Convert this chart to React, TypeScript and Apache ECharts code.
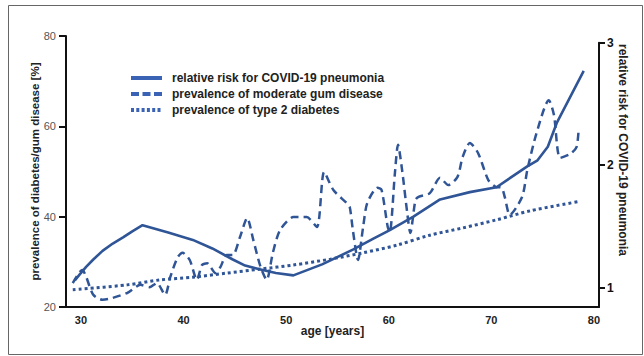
import React, { useEffect, useRef } from "react";
import * as echarts from "echarts";

// relative risk for COVID-19 pneumonia (right axis)
const riskAges = [29.4, 29.9, 30.5, 31.2, 32.1, 33.1, 34.1, 35.0, 36.0, 38.5, 40.9, 42.8, 44.8, 46.0, 47.4, 49.0, 50.7, 53.5, 56.5, 58.5, 60.1, 62.4, 65.0, 67.9, 70.5, 73.5, 74.5, 75.5, 76.4, 79.0];
const riskValues = [1.06, 1.11, 1.17, 1.23, 1.3, 1.36, 1.41, 1.46, 1.51, 1.45, 1.39, 1.32, 1.23, 1.18, 1.15, 1.12, 1.1, 1.19, 1.31, 1.4, 1.47, 1.58, 1.72, 1.78, 1.82, 1.99, 2.04, 2.15, 2.35, 2.77];

// prevalence of moderate gum disease (left axis, %)
const gumAges = [29.2, 30.1, 31.2, 32.1, 34.5, 35.8, 36.7, 37.4, 38.2, 38.7, 39.4, 39.9, 40.6, 41.3, 41.8, 42.3, 43.1, 43.6, 44.2, 44.8, 45.5, 46.2, 46.8, 47.5, 48.1, 48.7, 49.4, 50.7, 52.0, 53.0, 53.7, 54.6, 55.9, 56.2, 56.5, 57.0, 57.5, 57.9, 58.9, 59.3, 59.9, 60.1, 60.6, 60.9, 61.3, 61.8, 62.1, 62.6, 62.9, 64.0, 65.0, 65.8, 66.7, 67.2, 67.9, 68.7, 69.7, 70.4, 71.0, 71.3, 71.8, 73.0, 73.5, 74.4, 75.6, 76.1, 76.7, 77.7, 78.3, 78.5];
const gumValues = [25.3, 28.2, 22.7, 21.6, 23.1, 24.9, 24.4, 25.3, 22.7, 26.6, 30.9, 32.0, 30.4, 26.0, 29.3, 29.7, 27.5, 28.9, 31.5, 31.5, 35.5, 39.7, 34.8, 28.9, 26.0, 32.0, 37.0, 39.9, 39.9, 37.7, 49.9, 45.9, 43.0, 42.1, 37.0, 30.4, 37.7, 43.0, 46.4, 45.9, 37.7, 36.6, 49.7, 55.9, 50.3, 40.8, 36.4, 43.7, 44.4, 45.2, 48.6, 47.0, 48.8, 53.2, 56.3, 54.1, 48.1, 46.6, 46.4, 44.4, 40.4, 44.4, 50.3, 58.5, 65.8, 62.5, 53.0, 53.9, 55.4, 59.2];

// prevalence of type 2 diabetes (left axis, %)
const diabAges = [29.2, 34.5, 37.7, 40.9, 44.2, 47.5, 50.7, 54.3, 57.5, 60.8, 64.0, 67.2, 70.5, 73.8, 78.4];
const diabValues = [23.8, 24.9, 26.0, 26.6, 27.5, 28.4, 29.3, 30.6, 32.0, 33.7, 35.9, 37.5, 39.3, 41.3, 43.3];

const xTickLabels = [30, 40, 50, 60, 70, 80];
const rightTickLabels = [1, 2, 3];

const names = [
  "relative risk for COVID-19 pneumonia",
  "prevalence of moderate gum disease",
  "prevalence of type 2 diabetes",
];

const FONT = "Liberation Sans, Arial, Helvetica, sans-serif";
const BLUE = "#2f5597";
const LEGEND_BLUE = "#3a62b5";

const zip = (a: number[], b: number[]) => a.map((x, i) => [x, b[i]]);

export default function App() {
  const ref = useRef<HTMLDivElement>(null);
  useEffect(() => {
    if (!ref.current) return;
    const chart = echarts.init(ref.current, null, { renderer: "svg" });
    const xMin = 28.54;
    const xMax = 80.49;
    const hiddenSymbol = { opacity: 0, color: "transparent", borderWidth: 0 };
    chart.setOption({
      animation: false,
      backgroundColor: "#ffffff",
      textStyle: { fontFamily: FONT },
      grid: [
        { left: 66, right: 45, top: 36, bottom: 49 },
        { left: 66, right: 45, top: 42.7, bottom: 49 },
      ],
      xAxis: [
        {
          type: "value",
          gridIndex: 0,
          min: xMin,
          max: xMax,
          name: "age [years]",
          nameLocation: "middle",
          nameGap: 18,
          nameMoveOverlap: false,
          nameTextStyle: { fontFamily: FONT, fontSize: 12, fontWeight: "bold", color: "#222" },
          axisLine: { show: true, onZero: false, lineStyle: { color: "#111", width: 2 } },
          axisTick: { show: false },
          splitLine: { show: false },
          axisLabel: {
            customValues: xTickLabels,
            margin: 7,
            fontSize: 11,
            fontWeight: "bold",
            color: "#222",
            fontFamily: FONT,
          },
        },
        {
          type: "value",
          gridIndex: 1,
          min: xMin,
          max: xMax,
          show: false,
        },
      ],
      yAxis: [
        {
          type: "value",
          gridIndex: 0,
          position: "left",
          min: 20,
          max: 80,
          interval: 20,
          name: "prevalence of diabetes/gum disease [%]",
          nameLocation: "middle",
          nameGap: 25,
          nameMoveOverlap: false,
          nameTextStyle: { fontFamily: FONT, fontSize: 11.5, fontWeight: "bold", color: "#222" },
          axisLine: { show: true, onZero: false, lineStyle: { color: "#111", width: 2 } },
          axisTick: { show: true, length: 7, lineStyle: { color: "#111", width: 2 } },
          splitLine: { show: false },
          axisLabel: { margin: 10, fontSize: 11, color: "#555", fontFamily: FONT },
        },
        {
          type: "value",
          gridIndex: 1,
          position: "right",
          min: 0.842,
          max: 3,
          axisLine: { show: true, onZero: false, lineStyle: { color: "#111", width: 2 } },
          axisTick: { show: true, length: 6, customValues: rightTickLabels, lineStyle: { color: "#111", width: 2 } },
          splitLine: { show: false },
          axisLabel: {
            customValues: rightTickLabels,
            margin: 8,
            fontSize: 12,
            fontWeight: "bold",
            color: "#111",
            fontFamily: FONT,
          },
        },
      ],
      legend: {
        orient: "vertical",
        left: 124,
        top: 67,
        itemWidth: 31,
        itemHeight: 12,
        itemGap: 4,
        textStyle: { fontFamily: FONT, fontSize: 12, fontWeight: "bold", color: "#222", padding: [0, 0, 0, 5] },
        data: [
          { name: names[0], itemStyle: hiddenSymbol, lineStyle: { color: LEGEND_BLUE, width: 4, type: "solid" } },
          { name: names[1], itemStyle: hiddenSymbol, lineStyle: { color: LEGEND_BLUE, width: 4, type: [8, 3.5] } },
          { name: names[2], itemStyle: hiddenSymbol, lineStyle: { color: LEGEND_BLUE, width: 4, type: [3, 2.3] } },
        ],
      },
      series: [
        {
          name: names[1],
          type: "line",
          xAxisIndex: 0,
          yAxisIndex: 0,
          data: zip(gumAges, gumValues),
          showSymbol: false,
          symbol: "none",
          smooth: 0.25,
          lineStyle: { color: BLUE, width: 2.5, type: [8, 5] },
          itemStyle: { color: BLUE },
          z: 2,
        },
        {
          name: names[2],
          type: "line",
          xAxisIndex: 0,
          yAxisIndex: 0,
          data: zip(diabAges, diabValues),
          showSymbol: false,
          symbol: "none",
          smooth: 0.3,
          lineStyle: { color: BLUE, width: 3, type: [3, 3] },
          itemStyle: { color: BLUE },
          z: 2,
        },
        {
          name: names[0],
          type: "line",
          xAxisIndex: 1,
          yAxisIndex: 1,
          data: zip(riskAges, riskValues),
          showSymbol: false,
          symbol: "none",
          smooth: false,
          lineStyle: { color: BLUE, width: 2.6, type: "solid", join: "round" },
          itemStyle: { color: BLUE },
          z: 3,
        },
      ],
      graphic: [
        {
          type: "rect",
          shape: { x: 8.5, y: 5.5, width: 634, height: 349 },
          style: { fill: "none", stroke: "#666", lineWidth: 1 },
          silent: true,
        },
        {
          type: "text",
          x: 623,
          y: 150,
          rotation: -Math.PI / 2,
          style: {
            text: "relative risk for COVID-19 pneumonia",
            fontFamily: FONT,
            fontSize: 12,
            fontWeight: "bold",
            fill: "#222",
            align: "center",
            verticalAlign: "middle",
          },
          silent: true,
        },
      ],
    });
    return () => chart.dispose();
  }, []);
  return (
    <div
      ref={ref}
      style={{ position: "fixed", left: 0, top: 0, width: 644, height: 356 }}
    />
  );
}
